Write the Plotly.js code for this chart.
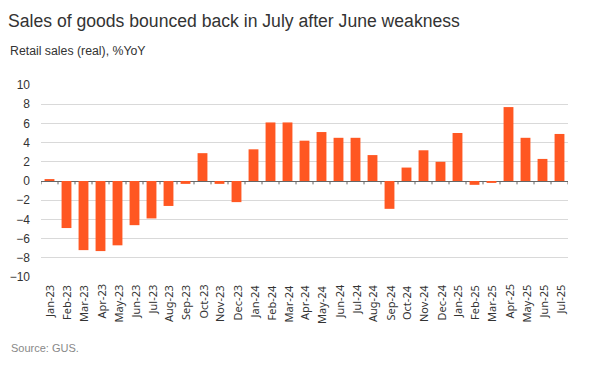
<!DOCTYPE html>
<html>
<head>
<meta charset="utf-8">
<script src="https://cdn.plot.ly/plotly-3.0.1.min.js"></script>
<style>html,body{margin:0;padding:0;background:#fff;}#chart{width:594px;height:384px;}</style>
</head>
<body>
<div id="chart"></div>
<script>
const months = ["Jan-23","Feb-23","Mar-23","Apr-23","May-23","Jun-23","Jul-23","Aug-23","Sep-23","Oct-23","Nov-23","Dec-23",
"Jan-24","Feb-24","Mar-24","Apr-24","May-24","Jun-24","Jul-24","Aug-24","Sep-24","Oct-24","Nov-24","Dec-24",
"Jan-25","Feb-25","Mar-25","Apr-25","May-25","Jun-25","Jul-25"];
const retailSales = [0.2,-4.9,-7.2,-7.3,-6.7,-4.6,-3.9,-2.6,-0.3,2.9,-0.3,-2.2,
3.3,6.1,6.1,4.2,5.1,4.5,4.5,2.7,-2.9,1.4,3.2,2.0,
5.0,-0.4,-0.2,7.7,4.5,2.3,4.9];
const yTicks = [-10,-8,-6,-4,-2,0,2,4,6,8,10];

const shapes = [];
for (let i = 0; i <= months.length; i++) {
  shapes.push({type:'line', xref:'x', yref:'y', x0:i-0.5, x1:i-0.5, y0:0, y1:-0.35,
    line:{color:'#666', width:1}});
}

const annotations = [
  {text:'Retail sales (real), %YoY', xref:'paper', yref:'paper', x:(8-41)/527, y:1+(85-51)/192,
    xanchor:'left', yanchor:'middle', showarrow:false, font:{size:12.3, color:'#333'}},
  {text:'Source: GUS.', xref:'paper', yref:'paper', x:(9-41)/527, y:-(348-277)/192,
    xanchor:'left', yanchor:'middle', showarrow:false, font:{size:11, color:'#888'}}
];
months.forEach(m => {
  annotations.push({text:m, xref:'x', yref:'paper', x:m, y:0, yshift:-6,
    xanchor:'center', yanchor:'top', textangle:-90, showarrow:false,
    font:{size:11, color:'#333', family:'Noto Sans, Open Sans, sans-serif'}});
});

Plotly.newPlot('chart', [{
  type:'bar', x:months, y:retailSales,
  marker:{color:'#ff5722'}, hoverinfo:'x+y'
}], {
  width:594, height:384,
  margin:{l:41, r:26, t:85, b:107},
  paper_bgcolor:'#fff', plot_bgcolor:'#fff',
  bargap:0.42,
  showlegend:false,
  font:{family:'Liberation Sans, Arial, sans-serif', color:'#333'},
  title:{text:'Sales of goods bounced back in July after June weakness',
    x:8/594, xanchor:'left', xref:'container', y:1-21/384, yanchor:'middle', yref:'container',
    font:{size:17.6, color:'#333', family:'Liberation Sans, Arial, sans-serif'}},
  xaxis:{type:'category', showticklabels:false, showgrid:false, zeroline:false, showline:false,
    ticks:'', range:[-0.5, months.length-0.5]},
  yaxis:{range:[-10,10], tickmode:'array', tickvals:yTicks, showgrid:true, gridcolor:'#d9d9d9', gridwidth:1,
    zeroline:true, zerolinecolor:'#666', zerolinewidth:1, showline:false, ticks:'',
    tickfont:{size:12, color:'#333'}, ticklabelstandoff:10},
  shapes:shapes,
  annotations:annotations
}, {displayModeBar:false, staticPlot:true});
</script>
</body>
</html>
